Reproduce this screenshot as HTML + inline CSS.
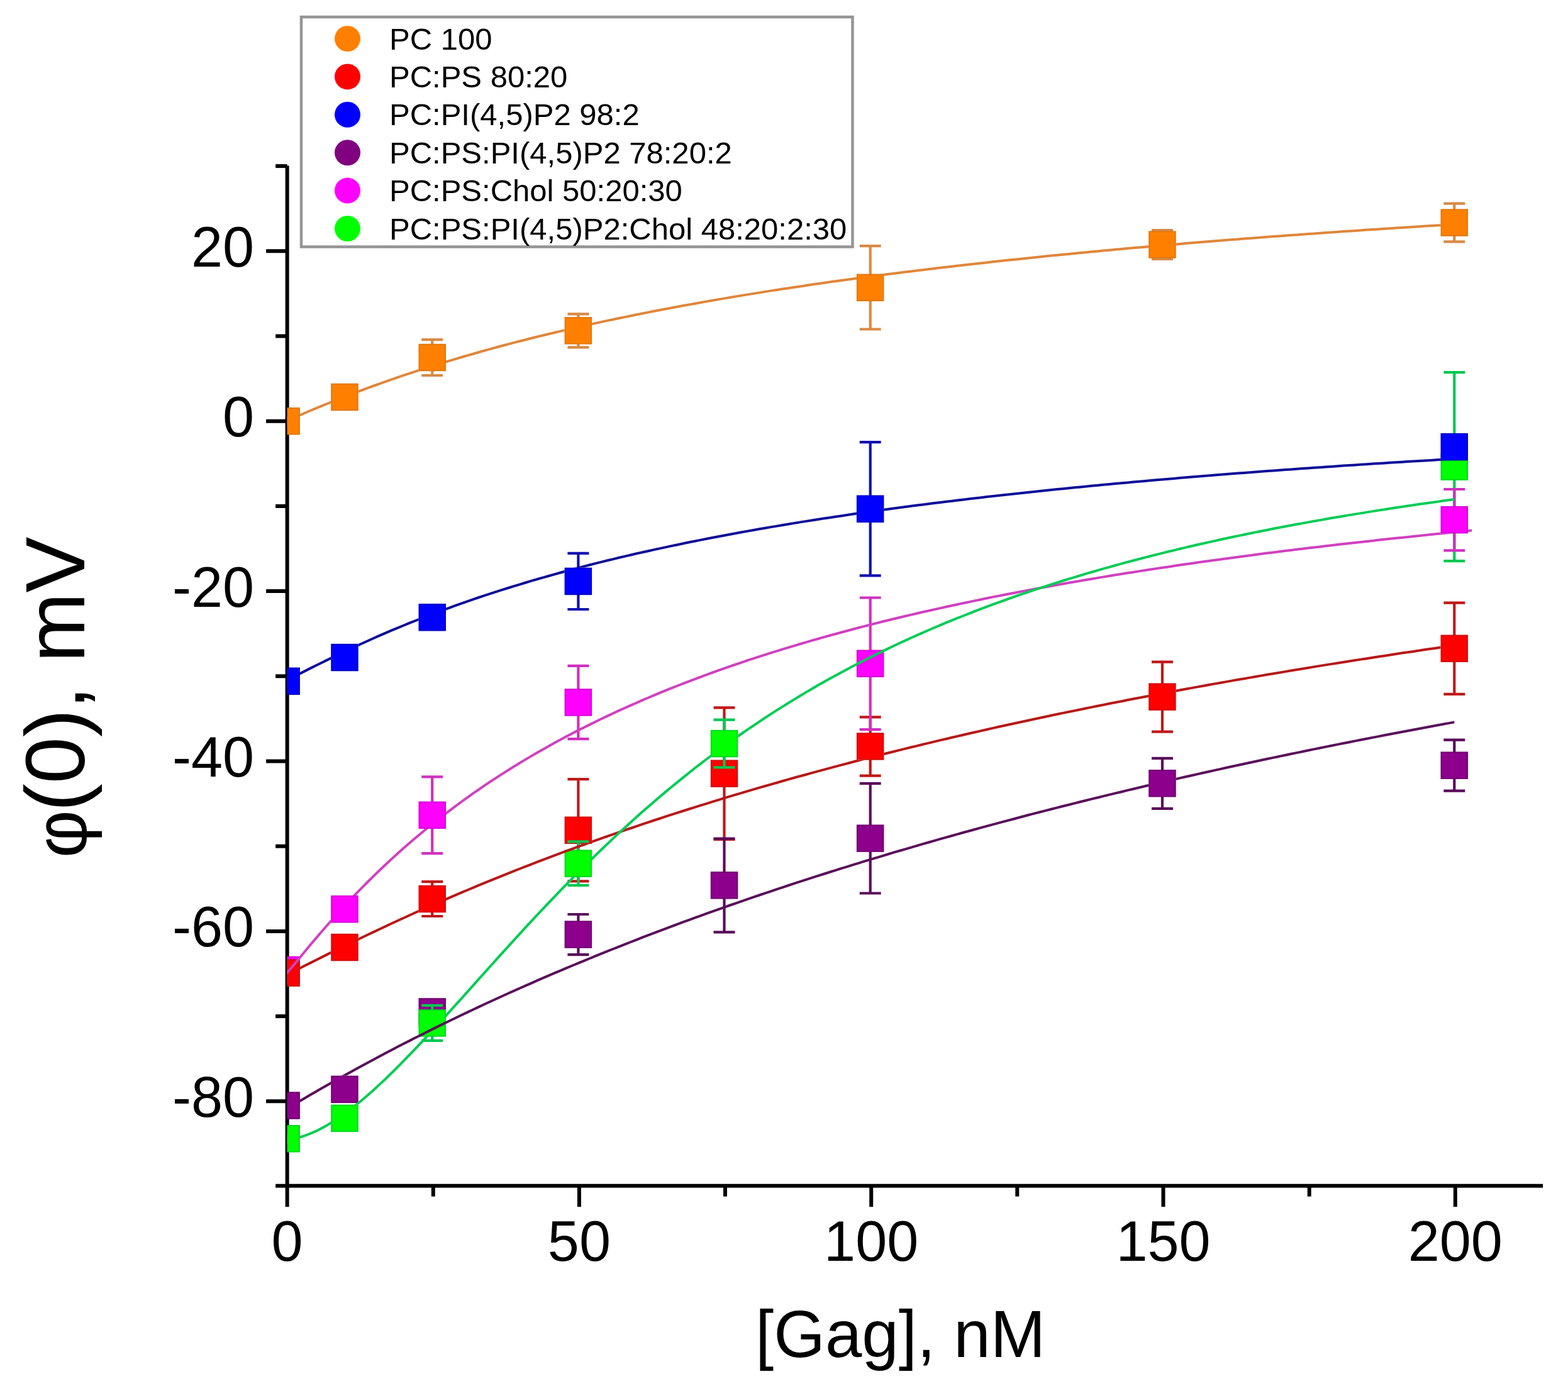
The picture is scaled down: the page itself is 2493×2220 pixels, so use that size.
<!DOCTYPE html><html><head><meta charset="utf-8"><title>Gag binding: surface potential</title><style>html,body{margin:0;padding:0;background:#fff;overflow:hidden;}svg{display:block}text{font-family:"Liberation Sans",Arial,sans-serif;fill:#000}</style></head><body>
<svg width="2493" height="2220" viewBox="0 0 2493 2220">
<rect width="2493" height="2220" fill="#fff"/>
<defs><clipPath id="pc"><rect x="456.6" y="0" width="2036.4" height="1886.5"/></clipPath><mask id="m_orange" maskUnits="userSpaceOnUse" x="0" y="0" width="2493" height="2220"><rect width="2493" height="2220" fill="#fff"/><rect x="433.4" y="648.0" width="43.5" height="43.5" fill="#000"/><rect x="526.2" y="609.7" width="43.5" height="43.5" fill="#000"/><rect x="665.5" y="546.8" width="43.5" height="43.5" fill="#000"/><rect x="897.6" y="504.1" width="43.5" height="43.5" fill="#000"/><rect x="1361.9" y="435.6" width="43.5" height="43.5" fill="#000"/><rect x="1826.2" y="367.3" width="43.5" height="43.5" fill="#000"/><rect x="2290.5" y="332.3" width="43.5" height="43.5" fill="#000"/></mask><mask id="m_red" maskUnits="userSpaceOnUse" x="0" y="0" width="2493" height="2220"><rect width="2493" height="2220" fill="#fff"/><rect x="433.4" y="1525.4" width="43.5" height="43.5" fill="#000"/><rect x="526.2" y="1484.8" width="43.5" height="43.5" fill="#000"/><rect x="665.5" y="1407.8" width="43.5" height="43.5" fill="#000"/><rect x="897.6" y="1298.5" width="43.5" height="43.5" fill="#000"/><rect x="1129.8" y="1208.4" width="43.5" height="43.5" fill="#000"/><rect x="1361.9" y="1165.2" width="43.5" height="43.5" fill="#000"/><rect x="1826.2" y="1086.4" width="43.5" height="43.5" fill="#000"/><rect x="2290.5" y="1009.5" width="43.5" height="43.5" fill="#000"/></mask><mask id="m_purple" maskUnits="userSpaceOnUse" x="0" y="0" width="2493" height="2220"><rect width="2493" height="2220" fill="#fff"/><rect x="433.4" y="1736.3" width="43.5" height="43.5" fill="#000"/><rect x="526.2" y="1710.6" width="43.5" height="43.5" fill="#000"/><rect x="897.6" y="1464.3" width="43.5" height="43.5" fill="#000"/><rect x="1129.8" y="1386.1" width="43.5" height="43.5" fill="#000"/><rect x="1361.9" y="1311.4" width="43.5" height="43.5" fill="#000"/><rect x="1826.2" y="1224.0" width="43.5" height="43.5" fill="#000"/><rect x="2290.5" y="1195.4" width="43.5" height="43.5" fill="#000"/></mask><mask id="m_green" maskUnits="userSpaceOnUse" x="0" y="0" width="2493" height="2220"><rect width="2493" height="2220" fill="#fff"/><rect x="433.4" y="1789.0" width="43.5" height="43.5" fill="#000"/><rect x="526.2" y="1756.6" width="43.5" height="43.5" fill="#000"/><rect x="665.5" y="1605.2" width="43.5" height="43.5" fill="#000"/><rect x="897.6" y="1351.4" width="43.5" height="43.5" fill="#000"/><rect x="1129.8" y="1160.8" width="43.5" height="43.5" fill="#000"/></mask><mask id="m_pink" maskUnits="userSpaceOnUse" x="0" y="0" width="2493" height="2220"><rect width="2493" height="2220" fill="#fff"/><rect x="526.2" y="1424.0" width="43.5" height="43.5" fill="#000"/><rect x="665.5" y="1274.5" width="43.5" height="43.5" fill="#000"/><rect x="897.6" y="1095.2" width="43.5" height="43.5" fill="#000"/><rect x="1361.9" y="1033.5" width="43.5" height="43.5" fill="#000"/><rect x="2290.5" y="804.9" width="43.5" height="43.5" fill="#000"/></mask><mask id="m_blue" maskUnits="userSpaceOnUse" x="0" y="0" width="2493" height="2220"><rect width="2493" height="2220" fill="#fff"/><rect x="433.4" y="1061.5" width="43.5" height="43.5" fill="#000"/><rect x="526.2" y="1023.8" width="43.5" height="43.5" fill="#000"/><rect x="665.5" y="960.0" width="43.5" height="43.5" fill="#000"/><rect x="897.6" y="902.7" width="43.5" height="43.5" fill="#000"/><rect x="1361.9" y="787.5" width="43.5" height="43.5" fill="#000"/><rect x="2290.5" y="688.9" width="43.5" height="43.5" fill="#000"/></mask></defs>
<g stroke="#000" stroke-width="6" fill="none">
<path d="M456.6,263.6 V1919.2"/>
<path d="M438.1,1885.7 H2453.1"/>
<path d="M423.1,1751.3 H456.6"/>
<path d="M438.1,1616.1 H456.6"/>
<path d="M423.1,1480.9 H456.6"/>
<path d="M438.1,1345.7 H456.6"/>
<path d="M423.1,1210.5 H456.6"/>
<path d="M438.1,1075.3 H456.6"/>
<path d="M423.1,940.1 H456.6"/>
<path d="M438.1,804.9 H456.6"/>
<path d="M423.1,669.7 H456.6"/>
<path d="M438.1,534.5 H456.6"/>
<path d="M423.1,399.3 H456.6"/>
<path d="M438.1,264.1 H456.6"/>
<path d="M688.8,1885.7 V1902.7"/>
<path d="M920.9,1885.7 V1919.2"/>
<path d="M1153.0,1885.7 V1902.7"/>
<path d="M1385.2,1885.7 V1919.2"/>
<path d="M1617.3,1885.7 V1902.7"/>
<path d="M1849.5,1885.7 V1919.2"/>
<path d="M2081.7,1885.7 V1902.7"/>
<path d="M2313.8,1885.7 V1919.2"/>
</g>
<g clip-path="url(#pc)">
<rect x="434.4" y="1521.7" width="41.5" height="41.5" fill="#FF00FF" stroke="#D800D8" stroke-width="2"/>
<path d="M455.1,664.3 V675.1 M438.1,664.3 H472.1 M438.1,675.1 H472.1" stroke="#D88A44" stroke-width="4.2" fill="none"/>
<path d="M548.0,624.7 V638.2 M531.0,624.7 H565.0 M531.0,638.2 H565.0" stroke="#D88A44" stroke-width="4.2" fill="none"/>
<path d="M687.2,540.2 V597.0 M670.2,540.2 H704.2 M670.2,597.0 H704.2" stroke="#D88A44" stroke-width="4.2" fill="none"/>
<path d="M919.4,499.3 V552.3 M902.4,499.3 H936.4 M902.4,552.3 H936.4" stroke="#D88A44" stroke-width="4.2" fill="none"/>
<path d="M1383.7,391.1 V523.5 M1366.7,391.1 H1400.7 M1366.7,523.5 H1400.7" stroke="#D88A44" stroke-width="4.2" fill="none"/>
<path d="M1848.0,366.0 V412.0 M1831.0,366.0 H1865.0 M1831.0,412.0 H1865.0" stroke="#D88A44" stroke-width="4.2" fill="none"/>
<path d="M2312.3,323.6 V384.4 M2295.3,323.6 H2329.3 M2295.3,384.4 H2329.3" stroke="#D88A44" stroke-width="4.2" fill="none"/>
<rect x="434.4" y="649.0" width="41.5" height="41.5" fill="#FF8000" stroke="#E07810" stroke-width="2"/>
<rect x="527.2" y="610.7" width="41.5" height="41.5" fill="#FF8000" stroke="#E07810" stroke-width="2"/>
<rect x="666.5" y="547.8" width="41.5" height="41.5" fill="#FF8000" stroke="#E07810" stroke-width="2"/>
<rect x="898.6" y="505.1" width="41.5" height="41.5" fill="#FF8000" stroke="#E07810" stroke-width="2"/>
<rect x="1362.9" y="436.6" width="41.5" height="41.5" fill="#FF8000" stroke="#E07810" stroke-width="2"/>
<rect x="1827.2" y="368.3" width="41.5" height="41.5" fill="#FF8000" stroke="#E07810" stroke-width="2"/>
<rect x="2291.5" y="333.3" width="41.5" height="41.5" fill="#FF8000" stroke="#E07810" stroke-width="2"/>
<path d="M455.1,1540.4 V1553.9 M438.1,1540.4 H472.1 M438.1,1553.9 H472.1" stroke="#C01818" stroke-width="4.2" fill="none"/>
<path d="M548.0,1495.8 V1517.4 M531.0,1495.8 H565.0 M531.0,1517.4 H565.0" stroke="#C01818" stroke-width="4.2" fill="none"/>
<path d="M687.2,1402.1 V1457.0 M670.2,1402.1 H704.2 M670.2,1457.0 H704.2" stroke="#C01818" stroke-width="4.2" fill="none"/>
<path d="M919.4,1239.2 V1401.4 M902.4,1239.2 H936.4 M902.4,1401.4 H936.4" stroke="#C01818" stroke-width="4.2" fill="none"/>
<path d="M1151.5,1125.3 V1334.9 M1134.5,1125.3 H1168.5 M1134.5,1334.9 H1168.5" stroke="#C01818" stroke-width="4.2" fill="none"/>
<path d="M1383.7,1140.3 V1233.6 M1366.7,1140.3 H1400.7 M1366.7,1233.6 H1400.7" stroke="#C01818" stroke-width="4.2" fill="none"/>
<path d="M1848.0,1052.7 V1163.6 M1831.0,1052.7 H1865.0 M1831.0,1163.6 H1865.0" stroke="#C01818" stroke-width="4.2" fill="none"/>
<path d="M2312.3,958.6 V1103.8 M2295.3,958.6 H2329.3 M2295.3,1103.8 H2329.3" stroke="#C01818" stroke-width="4.2" fill="none"/>
<rect x="434.4" y="1526.4" width="41.5" height="41.5" fill="#FF0000" stroke="#D01010" stroke-width="2"/>
<rect x="527.2" y="1485.8" width="41.5" height="41.5" fill="#FF0000" stroke="#D01010" stroke-width="2"/>
<rect x="666.5" y="1408.8" width="41.5" height="41.5" fill="#FF0000" stroke="#D01010" stroke-width="2"/>
<rect x="898.6" y="1299.5" width="41.5" height="41.5" fill="#FF0000" stroke="#D01010" stroke-width="2"/>
<rect x="1130.8" y="1209.4" width="41.5" height="41.5" fill="#FF0000" stroke="#D01010" stroke-width="2"/>
<rect x="1362.9" y="1166.2" width="41.5" height="41.5" fill="#FF0000" stroke="#D01010" stroke-width="2"/>
<rect x="1827.2" y="1087.4" width="41.5" height="41.5" fill="#FF0000" stroke="#D01010" stroke-width="2"/>
<rect x="2291.5" y="1010.5" width="41.5" height="41.5" fill="#FF0000" stroke="#D01010" stroke-width="2"/>
<path d="M455.1,1751.3 V1764.8 M438.1,1751.3 H472.1 M438.1,1764.8 H472.1" stroke="#5A0A5A" stroke-width="4.2" fill="none"/>
<path d="M548.0,1724.3 V1740.5 M531.0,1724.3 H565.0 M531.0,1740.5 H565.0" stroke="#5A0A5A" stroke-width="4.2" fill="none"/>
<path d="M687.2,1598.1 V1619.8 M670.2,1598.1 H704.2 M670.2,1619.8 H704.2" stroke="#5A0A5A" stroke-width="4.2" fill="none"/>
<path d="M919.4,1454.0 V1518.1 M902.4,1454.0 H936.4 M902.4,1518.1 H936.4" stroke="#5A0A5A" stroke-width="4.2" fill="none"/>
<path d="M1151.5,1333.5 V1482.3 M1134.5,1333.5 H1168.5 M1134.5,1482.3 H1168.5" stroke="#5A0A5A" stroke-width="4.2" fill="none"/>
<path d="M1383.7,1245.8 V1420.5 M1366.7,1245.8 H1400.7 M1366.7,1420.5 H1400.7" stroke="#5A0A5A" stroke-width="4.2" fill="none"/>
<path d="M1848.0,1205.8 V1285.8 M1831.0,1205.8 H1865.0 M1831.0,1285.8 H1865.0" stroke="#5A0A5A" stroke-width="4.2" fill="none"/>
<path d="M2312.3,1176.6 V1257.7 M2295.3,1176.6 H2329.3 M2295.3,1257.7 H2329.3" stroke="#5A0A5A" stroke-width="4.2" fill="none"/>
<rect x="434.4" y="1737.3" width="41.5" height="41.5" fill="#8C008C" stroke="#700070" stroke-width="2"/>
<rect x="527.2" y="1711.6" width="41.5" height="41.5" fill="#8C008C" stroke="#700070" stroke-width="2"/>
<rect x="666.5" y="1588.2" width="41.5" height="41.5" fill="#8C008C" stroke="#700070" stroke-width="2"/>
<rect x="898.6" y="1465.3" width="41.5" height="41.5" fill="#8C008C" stroke="#700070" stroke-width="2"/>
<rect x="1130.8" y="1387.1" width="41.5" height="41.5" fill="#8C008C" stroke="#700070" stroke-width="2"/>
<rect x="1362.9" y="1312.4" width="41.5" height="41.5" fill="#8C008C" stroke="#700070" stroke-width="2"/>
<rect x="1827.2" y="1225.0" width="41.5" height="41.5" fill="#8C008C" stroke="#700070" stroke-width="2"/>
<rect x="2291.5" y="1196.4" width="41.5" height="41.5" fill="#8C008C" stroke="#700070" stroke-width="2"/>
<path d="M455.1,1804.0 V1817.5 M438.1,1804.0 H472.1 M438.1,1817.5 H472.1" stroke="#00C850" stroke-width="4.2" fill="none"/>
<path d="M548.0,1770.2 V1786.5 M531.0,1770.2 H565.0 M531.0,1786.5 H565.0" stroke="#00C850" stroke-width="4.2" fill="none"/>
<path d="M687.2,1598.9 V1654.9 M670.2,1598.9 H704.2 M670.2,1654.9 H704.2" stroke="#00C850" stroke-width="4.2" fill="none"/>
<path d="M919.4,1338.4 V1407.9 M902.4,1338.4 H936.4 M902.4,1407.9 H936.4" stroke="#00C850" stroke-width="4.2" fill="none"/>
<path d="M1151.5,1144.7 V1220.4 M1134.5,1144.7 H1168.5 M1134.5,1220.4 H1168.5" stroke="#00C850" stroke-width="4.2" fill="none"/>
<path d="M2312.3,592.1 V892.2 M2295.3,592.1 H2329.3 M2295.3,892.2 H2329.3" stroke="#00C850" stroke-width="4.2" fill="none"/>
<rect x="434.4" y="1790.0" width="41.5" height="41.5" fill="#00FF00" stroke="#00D820" stroke-width="2"/>
<rect x="527.2" y="1757.6" width="41.5" height="41.5" fill="#00FF00" stroke="#00D820" stroke-width="2"/>
<rect x="666.5" y="1606.2" width="41.5" height="41.5" fill="#00FF00" stroke="#00D820" stroke-width="2"/>
<rect x="898.6" y="1352.4" width="41.5" height="41.5" fill="#00FF00" stroke="#00D820" stroke-width="2"/>
<rect x="1130.8" y="1161.8" width="41.5" height="41.5" fill="#00FF00" stroke="#00D820" stroke-width="2"/>
<rect x="2291.5" y="721.4" width="41.5" height="41.5" fill="#00FF00" stroke="#00D820" stroke-width="2"/>
<path d="M548.0,1434.9 V1456.6 M531.0,1434.9 H565.0 M531.0,1456.6 H565.0" stroke="#D030C0" stroke-width="4.2" fill="none"/>
<path d="M687.2,1235.4 V1357.1 M670.2,1235.4 H704.2 M670.2,1357.1 H704.2" stroke="#D030C0" stroke-width="4.2" fill="none"/>
<path d="M919.4,1058.8 V1175.1 M902.4,1058.8 H936.4 M902.4,1175.1 H936.4" stroke="#D030C0" stroke-width="4.2" fill="none"/>
<path d="M1383.7,950.5 V1160.1 M1366.7,950.5 H1400.7 M1366.7,1160.1 H1400.7" stroke="#D030C0" stroke-width="4.2" fill="none"/>
<path d="M2312.3,778.0 V875.3 M2295.3,778.0 H2329.3 M2295.3,875.3 H2329.3" stroke="#D030C0" stroke-width="4.2" fill="none"/>
<rect x="527.2" y="1425.0" width="41.5" height="41.5" fill="#FF00FF" stroke="#D800D8" stroke-width="2"/>
<rect x="666.5" y="1275.5" width="41.5" height="41.5" fill="#FF00FF" stroke="#D800D8" stroke-width="2"/>
<rect x="898.6" y="1096.2" width="41.5" height="41.5" fill="#FF00FF" stroke="#D800D8" stroke-width="2"/>
<rect x="1362.9" y="1034.5" width="41.5" height="41.5" fill="#FF00FF" stroke="#D800D8" stroke-width="2"/>
<rect x="2291.5" y="805.9" width="41.5" height="41.5" fill="#FF00FF" stroke="#D800D8" stroke-width="2"/>
<path d="M455.1,1076.5 V1090.0 M438.1,1076.5 H472.1 M438.1,1090.0 H472.1" stroke="#1010B0" stroke-width="4.2" fill="none"/>
<path d="M548.0,1037.4 V1053.7 M531.0,1037.4 H565.0 M531.0,1053.7 H565.0" stroke="#1010B0" stroke-width="4.2" fill="none"/>
<path d="M687.2,965.5 V998.0 M670.2,965.5 H704.2 M670.2,998.0 H704.2" stroke="#1010B0" stroke-width="4.2" fill="none"/>
<path d="M919.4,879.8 V969.0 M902.4,879.8 H936.4 M902.4,969.0 H936.4" stroke="#1010B0" stroke-width="4.2" fill="none"/>
<path d="M1383.7,703.1 V915.4 M1366.7,703.1 H1400.7 M1366.7,915.4 H1400.7" stroke="#1010B0" stroke-width="4.2" fill="none"/>
<path d="M2312.3,699.8 V721.5 M2295.3,699.8 H2329.3 M2295.3,721.5 H2329.3" stroke="#1010B0" stroke-width="4.2" fill="none"/>
<rect x="434.4" y="1062.5" width="41.5" height="41.5" fill="#0000FF" stroke="#0000C8" stroke-width="2"/>
<rect x="527.2" y="1024.8" width="41.5" height="41.5" fill="#0000FF" stroke="#0000C8" stroke-width="2"/>
<rect x="666.5" y="961.0" width="41.5" height="41.5" fill="#0000FF" stroke="#0000C8" stroke-width="2"/>
<rect x="898.6" y="903.7" width="41.5" height="41.5" fill="#0000FF" stroke="#0000C8" stroke-width="2"/>
<rect x="1362.9" y="788.5" width="41.5" height="41.5" fill="#0000FF" stroke="#0000C8" stroke-width="2"/>
<rect x="2291.5" y="689.9" width="41.5" height="41.5" fill="#0000FF" stroke="#0000C8" stroke-width="2"/>
<path d="M455.1,669.4 L464.4,665.5 L473.7,661.5 L483.0,657.5 L492.2,653.5 L501.5,649.7 L510.8,645.8 L520.1,642.0 L529.4,638.3 L538.7,634.6 L548.0,630.9 L557.2,627.3 L566.5,623.8 L575.8,620.3 L585.1,616.9 L594.4,613.5 L603.7,610.1 L613.0,606.8 L622.2,603.6 L631.5,600.4 L640.8,597.2 L650.1,594.1 L659.4,591.1 L668.7,588.0 L678.0,585.1 L687.2,582.1 L696.5,579.2 L705.8,576.4 L715.1,573.6 L724.4,570.8 L733.7,568.0 L743.0,565.3 L752.3,562.7 L761.5,560.0 L770.8,557.4 L780.1,554.9 L789.4,552.3 L798.7,549.8 L808.0,547.4 L817.3,544.9 L826.5,542.5 L835.8,540.2 L845.1,537.8 L854.4,535.5 L863.7,533.2 L873.0,531.0 L882.3,528.8 L891.5,526.6 L900.8,524.4 L910.1,522.3 L919.4,520.1 L928.7,518.0 L938.0,516.0 L947.3,513.9 L956.5,511.9 L965.8,509.9 L975.1,508.0 L984.4,506.0 L993.7,504.1 L1003.0,502.2 L1012.3,500.3 L1021.5,498.5 L1030.8,496.6 L1040.1,494.8 L1049.4,493.0 L1058.7,491.2 L1068.0,489.5 L1077.3,487.8 L1086.5,486.0 L1095.8,484.4 L1105.1,482.7 L1114.4,481.0 L1123.7,479.4 L1133.0,477.8 L1142.3,476.1 L1151.5,474.6 L1160.8,473.0 L1170.1,471.4 L1179.4,469.9 L1188.7,468.4 L1198.0,466.9 L1207.3,465.4 L1216.6,463.9 L1225.8,462.4 L1235.1,461.0 L1244.4,459.6 L1253.7,458.2 L1263.0,456.8 L1272.3,455.4 L1281.6,454.0 L1290.8,452.6 L1300.1,451.3 L1309.4,450.0 L1318.7,448.6 L1328.0,447.3 L1337.3,446.0 L1346.6,444.8 L1355.8,443.5 L1365.1,442.2 L1374.4,441.0 L1383.7,439.8 L1393.0,438.5 L1402.3,437.3 L1411.6,436.1 L1420.8,434.9 L1430.1,433.8 L1439.4,432.6 L1448.7,431.4 L1458.0,430.3 L1467.3,429.2 L1476.6,428.0 L1485.8,426.9 L1495.1,425.8 L1504.4,424.7 L1513.7,423.7 L1523.0,422.6 L1532.3,421.5 L1541.6,420.5 L1550.8,419.4 L1560.1,418.4 L1569.4,417.4 L1578.7,416.3 L1588.0,415.3 L1597.3,414.3 L1606.6,413.3 L1615.8,412.4 L1625.1,411.4 L1634.4,410.4 L1643.7,409.5 L1653.0,408.5 L1662.3,407.6 L1671.6,406.6 L1680.9,405.7 L1690.1,404.8 L1699.4,403.9 L1708.7,403.0 L1718.0,402.1 L1727.3,401.2 L1736.6,400.3 L1745.9,399.4 L1755.1,398.6 L1764.4,397.7 L1773.7,396.8 L1783.0,396.0 L1792.3,395.1 L1801.6,394.3 L1810.9,393.5 L1820.1,392.7 L1829.4,391.8 L1838.7,391.0 L1848.0,390.2 L1857.3,389.4 L1866.6,388.7 L1875.9,387.9 L1885.1,387.1 L1894.4,386.3 L1903.7,385.6 L1913.0,384.8 L1922.3,384.0 L1931.6,383.3 L1940.9,382.5 L1950.1,381.8 L1959.4,381.1 L1968.7,380.4 L1978.0,379.6 L1987.3,378.9 L1996.6,378.2 L2005.9,377.5 L2015.1,376.8 L2024.4,376.1 L2033.7,375.4 L2043.0,374.7 L2052.3,374.0 L2061.6,373.4 L2070.9,372.7 L2080.2,372.0 L2089.4,371.4 L2098.7,370.7 L2108.0,370.1 L2117.3,369.4 L2126.6,368.8 L2135.9,368.1 L2145.2,367.5 L2154.4,366.9 L2163.7,366.2 L2173.0,365.6 L2182.3,365.0 L2191.6,364.4 L2200.9,363.8 L2210.2,363.2 L2219.4,362.6 L2228.7,362.0 L2238.0,361.4 L2247.3,360.8 L2256.6,360.2 L2265.9,359.6 L2275.2,359.1 L2284.4,358.5 L2293.7,357.9 L2303.0,357.3 L2312.3,356.8" fill="none" stroke="#E0863A" stroke-width="4" stroke-linejoin="round" mask="url(#m_orange)"/>
<path d="M455.1,1550.2 L464.4,1545.8 L473.7,1541.2 L483.0,1536.5 L492.2,1531.9 L501.5,1527.2 L510.8,1522.6 L520.1,1517.9 L529.4,1513.3 L538.7,1508.8 L548.0,1504.2 L557.2,1499.7 L566.5,1495.2 L575.8,1490.7 L585.1,1486.3 L594.4,1481.9 L603.7,1477.5 L613.0,1473.1 L622.2,1468.8 L631.5,1464.5 L640.8,1460.3 L650.1,1456.0 L659.4,1451.8 L668.7,1447.7 L678.0,1443.5 L687.2,1439.4 L696.5,1435.4 L705.8,1431.3 L715.1,1427.3 L724.4,1423.3 L733.7,1419.4 L743.0,1415.5 L752.3,1411.6 L761.5,1407.7 L770.8,1403.9 L780.1,1400.1 L789.4,1396.3 L798.7,1392.6 L808.0,1388.9 L817.3,1385.2 L826.5,1381.5 L835.8,1377.9 L845.1,1374.3 L854.4,1370.7 L863.7,1367.2 L873.0,1363.6 L882.3,1360.1 L891.5,1356.7 L900.8,1353.2 L910.1,1349.8 L919.4,1346.4 L928.7,1343.0 L938.0,1339.7 L947.3,1336.4 L956.5,1333.1 L965.8,1329.8 L975.1,1326.6 L984.4,1323.4 L993.7,1320.2 L1003.0,1317.0 L1012.3,1313.8 L1021.5,1310.7 L1030.8,1307.6 L1040.1,1304.5 L1049.4,1301.5 L1058.7,1298.4 L1068.0,1295.4 L1077.3,1292.4 L1086.5,1289.5 L1095.8,1286.5 L1105.1,1283.6 L1114.4,1280.7 L1123.7,1277.8 L1133.0,1274.9 L1142.3,1272.1 L1151.5,1269.2 L1160.8,1266.4 L1170.1,1263.7 L1179.4,1260.9 L1188.7,1258.1 L1198.0,1255.4 L1207.3,1252.7 L1216.6,1250.0 L1225.8,1247.3 L1235.1,1244.7 L1244.4,1242.0 L1253.7,1239.4 L1263.0,1236.8 L1272.3,1234.2 L1281.6,1231.7 L1290.8,1229.1 L1300.1,1226.6 L1309.4,1224.1 L1318.7,1221.6 L1328.0,1219.1 L1337.3,1216.6 L1346.6,1214.2 L1355.8,1211.8 L1365.1,1209.3 L1374.4,1206.9 L1383.7,1204.6 L1393.0,1202.2 L1402.3,1199.8 L1411.6,1197.5 L1420.8,1195.2 L1430.1,1192.9 L1439.4,1190.6 L1448.7,1188.3 L1458.0,1186.1 L1467.3,1183.8 L1476.6,1181.6 L1485.8,1179.4 L1495.1,1177.1 L1504.4,1175.0 L1513.7,1172.8 L1523.0,1170.6 L1532.3,1168.5 L1541.6,1166.3 L1550.8,1164.2 L1560.1,1162.1 L1569.4,1160.0 L1578.7,1157.9 L1588.0,1155.8 L1597.3,1153.8 L1606.6,1151.7 L1615.8,1149.7 L1625.1,1147.7 L1634.4,1145.7 L1643.7,1143.7 L1653.0,1141.7 L1662.3,1139.7 L1671.6,1137.8 L1680.9,1135.8 L1690.1,1133.9 L1699.4,1132.0 L1708.7,1130.1 L1718.0,1128.2 L1727.3,1126.3 L1736.6,1124.4 L1745.9,1122.5 L1755.1,1120.7 L1764.4,1118.8 L1773.7,1117.0 L1783.0,1115.2 L1792.3,1113.3 L1801.6,1111.5 L1810.9,1109.7 L1820.1,1108.0 L1829.4,1106.2 L1838.7,1104.4 L1848.0,1102.7 L1857.3,1100.9 L1866.6,1099.2 L1875.9,1097.5 L1885.1,1095.8 L1894.4,1094.1 L1903.7,1092.4 L1913.0,1090.7 L1922.3,1089.0 L1931.6,1087.4 L1940.9,1085.7 L1950.1,1084.1 L1959.4,1082.4 L1968.7,1080.8 L1978.0,1079.2 L1987.3,1077.6 L1996.6,1076.0 L2005.9,1074.4 L2015.1,1072.8 L2024.4,1071.2 L2033.7,1069.7 L2043.0,1068.1 L2052.3,1066.5 L2061.6,1065.0 L2070.9,1063.5 L2080.2,1062.0 L2089.4,1060.4 L2098.7,1058.9 L2108.0,1057.4 L2117.3,1055.9 L2126.6,1054.5 L2135.9,1053.0 L2145.2,1051.5 L2154.4,1050.1 L2163.7,1048.6 L2173.0,1047.2 L2182.3,1045.7 L2191.6,1044.3 L2200.9,1042.9 L2210.2,1041.5 L2219.4,1040.0 L2228.7,1038.6 L2238.0,1037.3 L2247.3,1035.9 L2256.6,1034.5 L2265.9,1033.1 L2275.2,1031.8 L2284.4,1030.4 L2293.7,1029.0 L2303.0,1027.7 L2312.3,1026.4" fill="none" stroke="#B81818" stroke-width="4" stroke-linejoin="round" mask="url(#m_red)"/>
<path d="M455.1,1081.5 L464.4,1077.3 L473.7,1072.7 L483.0,1068.1 L492.2,1063.4 L501.5,1058.8 L510.8,1054.2 L520.1,1049.6 L529.4,1045.0 L538.7,1040.6 L548.0,1036.1 L557.2,1031.7 L566.5,1027.4 L575.8,1023.2 L585.1,1019.0 L594.4,1014.8 L603.7,1010.7 L613.0,1006.7 L622.2,1002.7 L631.5,998.8 L640.8,995.0 L650.1,991.2 L659.4,987.5 L668.7,983.8 L678.0,980.2 L687.2,976.6 L696.5,973.1 L705.8,969.7 L715.1,966.3 L724.4,962.9 L733.7,959.6 L743.0,956.4 L752.3,953.2 L761.5,950.0 L770.8,946.9 L780.1,943.9 L789.4,940.9 L798.7,937.9 L808.0,935.0 L817.3,932.1 L826.5,929.3 L835.8,926.5 L845.1,923.7 L854.4,921.0 L863.7,918.3 L873.0,915.7 L882.3,913.1 L891.5,910.5 L900.8,908.0 L910.1,905.5 L919.4,903.1 L928.7,900.7 L938.0,898.3 L947.3,895.9 L956.5,893.6 L965.8,891.3 L975.1,889.1 L984.4,886.8 L993.7,884.6 L1003.0,882.5 L1012.3,880.3 L1021.5,878.2 L1030.8,876.2 L1040.1,874.1 L1049.4,872.1 L1058.7,870.1 L1068.0,868.1 L1077.3,866.2 L1086.5,864.2 L1095.8,862.3 L1105.1,860.5 L1114.4,858.6 L1123.7,856.8 L1133.0,855.0 L1142.3,853.2 L1151.5,851.5 L1160.8,849.7 L1170.1,848.0 L1179.4,846.3 L1188.7,844.6 L1198.0,843.0 L1207.3,841.3 L1216.6,839.7 L1225.8,838.1 L1235.1,836.6 L1244.4,835.0 L1253.7,833.5 L1263.0,831.9 L1272.3,830.4 L1281.6,828.9 L1290.8,827.5 L1300.1,826.0 L1309.4,824.6 L1318.7,823.2 L1328.0,821.8 L1337.3,820.4 L1346.6,819.0 L1355.8,817.6 L1365.1,816.3 L1374.4,815.0 L1383.7,813.7 L1393.0,812.4 L1402.3,811.1 L1411.6,809.8 L1420.8,808.5 L1430.1,807.3 L1439.4,806.1 L1448.7,804.8 L1458.0,803.6 L1467.3,802.4 L1476.6,801.3 L1485.8,800.1 L1495.1,798.9 L1504.4,797.8 L1513.7,796.7 L1523.0,795.5 L1532.3,794.4 L1541.6,793.3 L1550.8,792.3 L1560.1,791.2 L1569.4,790.1 L1578.7,789.1 L1588.0,788.0 L1597.3,787.0 L1606.6,786.0 L1615.8,784.9 L1625.1,783.9 L1634.4,782.9 L1643.7,782.0 L1653.0,781.0 L1662.3,780.0 L1671.6,779.1 L1680.9,778.1 L1690.1,777.2 L1699.4,776.2 L1708.7,775.3 L1718.0,774.4 L1727.3,773.5 L1736.6,772.6 L1745.9,771.7 L1755.1,770.8 L1764.4,770.0 L1773.7,769.1 L1783.0,768.3 L1792.3,767.4 L1801.6,766.6 L1810.9,765.7 L1820.1,764.9 L1829.4,764.1 L1838.7,763.3 L1848.0,762.5 L1857.3,761.7 L1866.6,760.9 L1875.9,760.1 L1885.1,759.3 L1894.4,758.6 L1903.7,757.8 L1913.0,757.0 L1922.3,756.3 L1931.6,755.5 L1940.9,754.8 L1950.1,754.1 L1959.4,753.3 L1968.7,752.6 L1978.0,751.9 L1987.3,751.2 L1996.6,750.5 L2005.9,749.8 L2015.1,749.1 L2024.4,748.4 L2033.7,747.8 L2043.0,747.1 L2052.3,746.4 L2061.6,745.8 L2070.9,745.1 L2080.2,744.4 L2089.4,743.8 L2098.7,743.2 L2108.0,742.5 L2117.3,741.9 L2126.6,741.3 L2135.9,740.6 L2145.2,740.0 L2154.4,739.4 L2163.7,738.8 L2173.0,738.2 L2182.3,737.6 L2191.6,737.0 L2200.9,736.4 L2210.2,735.8 L2219.4,735.3 L2228.7,734.7 L2238.0,734.1 L2247.3,733.5 L2256.6,733.0 L2265.9,732.4 L2275.2,731.9 L2284.4,731.3 L2293.7,730.8 L2303.0,730.2 L2312.3,729.7" fill="none" stroke="#0C0C98" stroke-width="4" stroke-linejoin="round" mask="url(#m_blue)"/>
<path d="M455.1,1763.9 L464.4,1758.3 L473.7,1752.7 L483.0,1747.2 L492.2,1741.8 L501.5,1736.4 L510.8,1731.0 L520.1,1725.7 L529.4,1720.4 L538.7,1715.2 L548.0,1710.0 L557.2,1704.9 L566.5,1699.8 L575.8,1694.7 L585.1,1689.7 L594.4,1684.7 L603.7,1679.7 L613.0,1674.8 L622.2,1670.0 L631.5,1665.1 L640.8,1660.3 L650.1,1655.6 L659.4,1650.8 L668.7,1646.2 L678.0,1641.5 L687.2,1636.9 L696.5,1632.3 L705.8,1627.7 L715.1,1623.2 L724.4,1618.7 L733.7,1614.3 L743.0,1609.9 L752.3,1605.5 L761.5,1601.1 L770.8,1596.8 L780.1,1592.5 L789.4,1588.2 L798.7,1584.0 L808.0,1579.8 L817.3,1575.6 L826.5,1571.5 L835.8,1567.4 L845.1,1563.3 L854.4,1559.2 L863.7,1555.2 L873.0,1551.2 L882.3,1547.2 L891.5,1543.3 L900.8,1539.4 L910.1,1535.5 L919.4,1531.6 L928.7,1527.8 L938.0,1524.0 L947.3,1520.2 L956.5,1516.4 L965.8,1512.7 L975.1,1509.0 L984.4,1505.3 L993.7,1501.6 L1003.0,1498.0 L1012.3,1494.3 L1021.5,1490.7 L1030.8,1487.2 L1040.1,1483.6 L1049.4,1480.1 L1058.7,1476.6 L1068.0,1473.1 L1077.3,1469.7 L1086.5,1466.2 L1095.8,1462.8 L1105.1,1459.4 L1114.4,1456.1 L1123.7,1452.7 L1133.0,1449.4 L1142.3,1446.1 L1151.5,1442.8 L1160.8,1439.5 L1170.1,1436.3 L1179.4,1433.1 L1188.7,1429.9 L1198.0,1426.7 L1207.3,1423.5 L1216.6,1420.4 L1225.8,1417.3 L1235.1,1414.1 L1244.4,1411.1 L1253.7,1408.0 L1263.0,1404.9 L1272.3,1401.9 L1281.6,1398.9 L1290.8,1395.9 L1300.1,1392.9 L1309.4,1390.0 L1318.7,1387.0 L1328.0,1384.1 L1337.3,1381.2 L1346.6,1378.3 L1355.8,1375.4 L1365.1,1372.6 L1374.4,1369.7 L1383.7,1366.9 L1393.0,1364.1 L1402.3,1361.3 L1411.6,1358.5 L1420.8,1355.7 L1430.1,1353.0 L1439.4,1350.3 L1448.7,1347.6 L1458.0,1344.9 L1467.3,1342.2 L1476.6,1339.5 L1485.8,1336.9 L1495.1,1334.2 L1504.4,1331.6 L1513.7,1329.0 L1523.0,1326.4 L1532.3,1323.8 L1541.6,1321.2 L1550.8,1318.7 L1560.1,1316.1 L1569.4,1313.6 L1578.7,1311.1 L1588.0,1308.6 L1597.3,1306.1 L1606.6,1303.7 L1615.8,1301.2 L1625.1,1298.8 L1634.4,1296.3 L1643.7,1293.9 L1653.0,1291.5 L1662.3,1289.1 L1671.6,1286.7 L1680.9,1284.4 L1690.1,1282.0 L1699.4,1279.7 L1708.7,1277.4 L1718.0,1275.0 L1727.3,1272.7 L1736.6,1270.4 L1745.9,1268.2 L1755.1,1265.9 L1764.4,1263.6 L1773.7,1261.4 L1783.0,1259.2 L1792.3,1256.9 L1801.6,1254.7 L1810.9,1252.5 L1820.1,1250.3 L1829.4,1248.2 L1838.7,1246.0 L1848.0,1243.8 L1857.3,1241.7 L1866.6,1239.6 L1875.9,1237.4 L1885.1,1235.3 L1894.4,1233.2 L1903.7,1231.1 L1913.0,1229.0 L1922.3,1227.0 L1931.6,1224.9 L1940.9,1222.9 L1950.1,1220.8 L1959.4,1218.8 L1968.7,1216.8 L1978.0,1214.8 L1987.3,1212.8 L1996.6,1210.8 L2005.9,1208.8 L2015.1,1206.8 L2024.4,1204.9 L2033.7,1202.9 L2043.0,1201.0 L2052.3,1199.0 L2061.6,1197.1 L2070.9,1195.2 L2080.2,1193.3 L2089.4,1191.4 L2098.7,1189.5 L2108.0,1187.6 L2117.3,1185.7 L2126.6,1183.9 L2135.9,1182.0 L2145.2,1180.2 L2154.4,1178.4 L2163.7,1176.5 L2173.0,1174.7 L2182.3,1172.9 L2191.6,1171.1 L2200.9,1169.3 L2210.2,1167.5 L2219.4,1165.7 L2228.7,1164.0 L2238.0,1162.2 L2247.3,1160.5 L2256.6,1158.7 L2265.9,1157.0 L2275.2,1155.2 L2284.4,1153.5 L2293.7,1151.8 L2303.0,1150.1 L2312.3,1148.4" fill="none" stroke="#5A0F5A" stroke-width="4" stroke-linejoin="round" mask="url(#m_purple)"/>
<path d="M455.1,1548.5 L464.4,1537.8 L473.7,1526.5 L483.0,1515.3 L492.2,1504.1 L501.5,1493.1 L510.8,1482.2 L520.1,1471.5 L529.4,1461.0 L538.7,1450.7 L548.0,1440.6 L557.2,1430.6 L566.5,1420.9 L575.8,1411.3 L585.1,1402.0 L594.4,1392.8 L603.7,1383.8 L613.0,1375.0 L622.2,1366.4 L631.5,1357.9 L640.8,1349.6 L650.1,1341.5 L659.4,1333.5 L668.7,1325.7 L678.0,1318.0 L687.2,1310.5 L696.5,1303.1 L705.8,1295.9 L715.1,1288.8 L724.4,1281.8 L733.7,1275.0 L743.0,1268.3 L752.3,1261.7 L761.5,1255.3 L770.8,1248.9 L780.1,1242.7 L789.4,1236.6 L798.7,1230.6 L808.0,1224.7 L817.3,1218.9 L826.5,1213.2 L835.8,1207.6 L845.1,1202.1 L854.4,1196.7 L863.7,1191.4 L873.0,1186.2 L882.3,1181.1 L891.5,1176.1 L900.8,1171.1 L910.1,1166.2 L919.4,1161.4 L928.7,1156.7 L938.0,1152.1 L947.3,1147.5 L956.5,1143.0 L965.8,1138.6 L975.1,1134.2 L984.4,1129.9 L993.7,1125.7 L1003.0,1121.6 L1012.3,1117.5 L1021.5,1113.4 L1030.8,1109.5 L1040.1,1105.6 L1049.4,1101.7 L1058.7,1097.9 L1068.0,1094.2 L1077.3,1090.5 L1086.5,1086.9 L1095.8,1083.3 L1105.1,1079.8 L1114.4,1076.3 L1123.7,1072.9 L1133.0,1069.5 L1142.3,1066.2 L1151.5,1062.9 L1160.8,1059.7 L1170.1,1056.5 L1179.4,1053.3 L1188.7,1050.2 L1198.0,1047.1 L1207.3,1044.1 L1216.6,1041.1 L1225.8,1038.2 L1235.1,1035.3 L1244.4,1032.4 L1253.7,1029.6 L1263.0,1026.8 L1272.3,1024.0 L1281.6,1021.3 L1290.8,1018.6 L1300.1,1016.0 L1309.4,1013.3 L1318.7,1010.7 L1328.0,1008.2 L1337.3,1005.7 L1346.6,1003.2 L1355.8,1000.7 L1365.1,998.3 L1374.4,995.9 L1383.7,993.5 L1393.0,991.1 L1402.3,988.8 L1411.6,986.5 L1420.8,984.3 L1430.1,982.0 L1439.4,979.8 L1448.7,977.6 L1458.0,975.5 L1467.3,973.3 L1476.6,971.2 L1485.8,969.1 L1495.1,967.1 L1504.4,965.0 L1513.7,963.0 L1523.0,961.0 L1532.3,959.0 L1541.6,957.1 L1550.8,955.1 L1560.1,953.2 L1569.4,951.3 L1578.7,949.4 L1588.0,947.6 L1597.3,945.8 L1606.6,944.0 L1615.8,942.2 L1625.1,940.4 L1634.4,938.6 L1643.7,936.9 L1653.0,935.2 L1662.3,933.5 L1671.6,931.8 L1680.9,930.1 L1690.1,928.5 L1699.4,926.8 L1708.7,925.2 L1718.0,923.6 L1727.3,922.0 L1736.6,920.5 L1745.9,918.9 L1755.1,917.4 L1764.4,915.8 L1773.7,914.3 L1783.0,912.8 L1792.3,911.3 L1801.6,909.9 L1810.9,908.4 L1820.1,907.0 L1829.4,905.6 L1838.7,904.1 L1848.0,902.7 L1857.3,901.4 L1866.6,900.0 L1875.9,898.6 L1885.1,897.3 L1894.4,895.9 L1903.7,894.6 L1913.0,893.3 L1922.3,892.0 L1931.6,890.7 L1940.9,889.4 L1950.1,888.2 L1959.4,886.9 L1968.7,885.7 L1978.0,884.4 L1987.3,883.2 L1996.6,882.0 L2005.9,880.8 L2015.1,879.6 L2024.4,878.4 L2033.7,877.3 L2043.0,876.1 L2052.3,875.0 L2061.6,873.8 L2070.9,872.7 L2080.2,871.6 L2089.4,870.5 L2098.7,869.4 L2108.0,868.3 L2117.3,867.2 L2126.6,866.1 L2135.9,865.1 L2145.2,864.0 L2154.4,862.9 L2163.7,861.9 L2173.0,860.9 L2182.3,859.9 L2191.6,858.8 L2200.9,857.8 L2210.2,856.8 L2219.4,855.8 L2228.7,854.9 L2238.0,853.9 L2247.3,852.9 L2256.6,852.0 L2265.9,851.0 L2275.2,850.1 L2284.4,849.1 L2293.7,848.2 L2303.0,847.3 L2312.3,846.3 L2321.6,845.4 L2330.9,844.5 L2340.2,843.6" fill="none" stroke="#D040C0" stroke-width="4" stroke-linejoin="round" mask="url(#m_pink)"/>
<path d="M455.1,1812.0 L464.4,1811.2 L473.7,1809.3 L483.0,1806.6 L492.2,1803.2 L501.5,1799.2 L510.8,1794.6 L520.1,1789.4 L529.4,1783.7 L538.7,1777.6 L548.0,1771.1 L557.2,1764.1 L566.5,1756.8 L575.8,1749.2 L585.1,1741.2 L594.4,1733.0 L603.7,1724.4 L613.0,1715.7 L622.2,1706.7 L631.5,1697.5 L640.8,1688.1 L650.1,1678.5 L659.4,1668.8 L668.7,1659.0 L678.0,1649.1 L687.2,1639.0 L696.5,1628.9 L705.8,1618.7 L715.1,1608.4 L724.4,1598.1 L733.7,1587.8 L743.0,1577.4 L752.3,1567.1 L761.5,1556.7 L770.8,1546.3 L780.1,1536.0 L789.4,1525.7 L798.7,1515.4 L808.0,1505.1 L817.3,1494.9 L826.5,1484.8 L835.8,1474.7 L845.1,1464.7 L854.4,1454.7 L863.7,1444.8 L873.0,1435.0 L882.3,1425.3 L891.5,1415.6 L900.8,1406.1 L910.1,1396.6 L919.4,1387.3 L928.7,1378.0 L938.0,1368.8 L947.3,1359.7 L956.5,1350.8 L965.8,1341.9 L975.1,1333.1 L984.4,1324.4 L993.7,1315.9 L1003.0,1307.4 L1012.3,1299.1 L1021.5,1290.8 L1030.8,1282.7 L1040.1,1274.7 L1049.4,1266.7 L1058.7,1258.9 L1068.0,1251.2 L1077.3,1243.6 L1086.5,1236.1 L1095.8,1228.7 L1105.1,1221.3 L1114.4,1214.1 L1123.7,1207.0 L1133.0,1200.0 L1142.3,1193.1 L1151.5,1186.3 L1160.8,1179.6 L1170.1,1173.0 L1179.4,1166.5 L1188.7,1160.1 L1198.0,1153.8 L1207.3,1147.6 L1216.6,1141.4 L1225.8,1135.4 L1235.1,1129.4 L1244.4,1123.6 L1253.7,1117.8 L1263.0,1112.1 L1272.3,1106.5 L1281.6,1100.9 L1290.8,1095.5 L1300.1,1090.1 L1309.4,1084.8 L1318.7,1079.6 L1328.0,1074.5 L1337.3,1069.4 L1346.6,1064.5 L1355.8,1059.6 L1365.1,1054.7 L1374.4,1050.0 L1383.7,1045.3 L1393.0,1040.7 L1402.3,1036.1 L1411.6,1031.6 L1420.8,1027.2 L1430.1,1022.8 L1439.4,1018.6 L1448.7,1014.3 L1458.0,1010.2 L1467.3,1006.1 L1476.6,1002.0 L1485.8,998.0 L1495.1,994.1 L1504.4,990.2 L1513.7,986.4 L1523.0,982.7 L1532.3,979.0 L1541.6,975.3 L1550.8,971.7 L1560.1,968.2 L1569.4,964.7 L1578.7,961.2 L1588.0,957.8 L1597.3,954.5 L1606.6,951.2 L1615.8,947.9 L1625.1,944.7 L1634.4,941.5 L1643.7,938.4 L1653.0,935.3 L1662.3,932.3 L1671.6,929.3 L1680.9,926.4 L1690.1,923.5 L1699.4,920.6 L1708.7,917.8 L1718.0,915.0 L1727.3,912.2 L1736.6,909.5 L1745.9,906.8 L1755.1,904.2 L1764.4,901.6 L1773.7,899.0 L1783.0,896.4 L1792.3,893.9 L1801.6,891.5 L1810.9,889.0 L1820.1,886.6 L1829.4,884.2 L1838.7,881.9 L1848.0,879.6 L1857.3,877.3 L1866.6,875.1 L1875.9,872.8 L1885.1,870.6 L1894.4,868.5 L1903.7,866.3 L1913.0,864.2 L1922.3,862.1 L1931.6,860.1 L1940.9,858.0 L1950.1,856.0 L1959.4,854.0 L1968.7,852.1 L1978.0,850.2 L1987.3,848.2 L1996.6,846.4 L2005.9,844.5 L2015.1,842.7 L2024.4,840.8 L2033.7,839.0 L2043.0,837.3 L2052.3,835.5 L2061.6,833.8 L2070.9,832.1 L2080.2,830.4 L2089.4,828.7 L2098.7,827.1 L2108.0,825.5 L2117.3,823.8 L2126.6,822.3 L2135.9,820.7 L2145.2,819.1 L2154.4,817.6 L2163.7,816.1 L2173.0,814.6 L2182.3,813.1 L2191.6,811.6 L2200.9,810.2 L2210.2,808.7 L2219.4,807.3 L2228.7,805.9 L2238.0,804.5 L2247.3,803.2 L2256.6,801.8 L2265.9,800.5 L2275.2,799.2 L2284.4,797.9 L2293.7,796.6 L2303.0,795.3 L2312.3,794.0" fill="none" stroke="#00CC55" stroke-width="4" stroke-linejoin="round" mask="url(#m_green)"/>
</g>
<text x="404" y="1775.8" font-size="90" text-anchor="end">-80</text>
<text x="404" y="1505.4" font-size="90" text-anchor="end">-60</text>
<text x="404" y="1235.0" font-size="90" text-anchor="end">-40</text>
<text x="404" y="964.6" font-size="90" text-anchor="end">-20</text>
<text x="404" y="694.2" font-size="90" text-anchor="end">0</text>
<text x="404" y="423.8" font-size="90" text-anchor="end">20</text>
<text x="456.6" y="2005" font-size="90" text-anchor="middle">0</text>
<text x="920.9" y="2005" font-size="90" text-anchor="middle">50</text>
<text x="1385.2" y="2005" font-size="90" text-anchor="middle">100</text>
<text x="1849.5" y="2005" font-size="90" text-anchor="middle">150</text>
<text x="2313.8" y="2005" font-size="90" text-anchor="middle">200</text>
<text x="1431.6" y="2158" font-size="105" text-anchor="middle">[Gag], nM</text>
<text transform="translate(136.5,1364.5) rotate(-90)" font-size="118">φ</text>
<text transform="translate(134,853.5) rotate(-90)" font-size="133.4" text-anchor="end">(0), mV</text>
<rect x="479" y="27" width="876.5" height="365.5" fill="#fff" stroke="#959595" stroke-width="4.5"/>
<circle cx="552.5" cy="61.5" r="20.5" fill="#FF8000"/>
<text x="619" y="78.5" font-size="49">PC 100</text>
<circle cx="552.5" cy="121.9" r="20.5" fill="#FF0000"/>
<text x="619" y="138.9" font-size="49">PC:PS 80:20</text>
<circle cx="552.5" cy="182.3" r="20.5" fill="#0000FF"/>
<text x="619" y="199.3" font-size="49">PC:PI(4,5)P2 98:2</text>
<circle cx="552.5" cy="242.7" r="20.5" fill="#800080"/>
<text x="619" y="259.7" font-size="49">PC:PS:PI(4,5)P2 78:20:2</text>
<circle cx="552.5" cy="303.1" r="20.5" fill="#FF00FF"/>
<text x="619" y="320.1" font-size="49">PC:PS:Chol 50:20:30</text>
<circle cx="552.5" cy="363.5" r="20.5" fill="#00FF00"/>
<text x="619" y="380.5" font-size="49">PC:PS:PI(4,5)P2:Chol 48:20:2:30</text>
</svg></body></html>
